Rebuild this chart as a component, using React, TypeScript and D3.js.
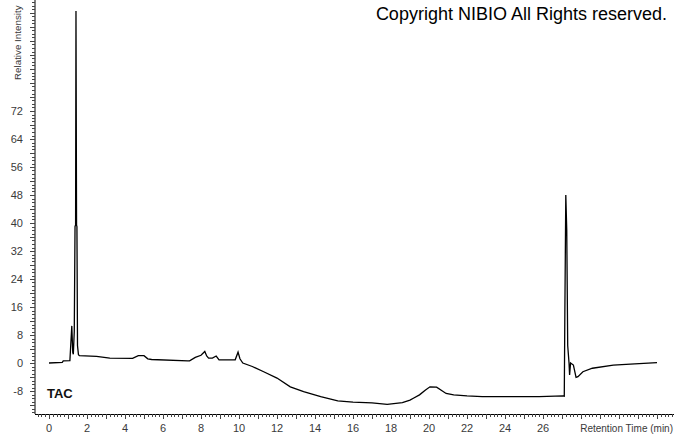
import React from "react";
import * as d3 from "d3";

const times = [
  0, 0.7, 0.75, 1.1, 1.2, 1.25, 1.28, 1.33, 1.37, 1.4, 1.42, 1.45, 1.47, 1.5, 1.55, 1.6,
  2.5, 3.2, 4.4, 4.7, 5.0, 5.2, 5.4, 7.3, 7.4, 7.7, 8.0, 8.2, 8.3, 8.4, 8.6, 8.8, 8.95,
  9.8, 9.95, 10.05, 10.2, 10.7, 11.3, 12.0, 12.7, 13.4, 14.3, 15.2, 16.0, 17.0, 17.8,
  18.6, 19.0, 19.2, 19.5, 19.8, 20.05, 20.4, 20.9, 21.3, 22.0, 22.8, 25.8, 27.05, 27.12,
  27.15, 27.2, 27.25, 27.3, 27.37, 27.4, 27.45, 27.6, 27.74, 27.84, 28.1, 28.6, 29.7, 30.6, 32.0,
];
const intensity = [
  0, 0.2, 0.6, 0.7, 10.6, 3, 2.5, 9, 39, 39.4, 100.6, 39.4, 39, 5, 2.4, 2.1,
  1.9, 1.4, 1.3, 2.1, 2.1, 1.2, 1.0, 0.6, 0.6, 1.6, 2.2, 3.3, 2.0, 1.4, 1.4, 2.0, 0.9,
  0.9, 3.1, 1.2, 0.0, -1.0, -2.5, -4.3, -6.8, -8.2, -9.6, -10.8, -11.2, -11.4, -11.8,
  -11.3, -10.6, -10.0, -9.1, -7.8, -6.8, -6.9, -8.7, -9.1, -9.4, -9.6, -9.6, -9.4, -9.5,
  14, 48, 38, 5, 0, -3.4, 0, -0.6, -4.1, -3.9, -2.5, -1.5, -0.6, -0.3, 0.1,
];
const yLabels = [-8, 0, 8, 16, 24, 32, 40, 48, 56, 64, 72];
const xLabels = [0, 2, 4, 6, 8, 10, 12, 14, 16, 18, 20, 22, 24, 26];

const W = 674;
const H = 434;

export default function App() {
  const left = 35;
  const right = 674;
  const bottom = 414;
  const top = 0;
  const x = d3.scaleLinear().domain([-14 / 19, (right - 49) / 19]).range([left, right]);
  const y = d3.scaleLinear().domain([(363 - bottom) / 3.5, 363 / 3.5]).range([bottom, top]);

  const pts = times.map((t, i) => [t, intensity[i]] as [number, number]);
  const line = d3
    .line<[number, number]>()
    .x((d) => x(d[0]))
    .y((d) => y(d[1]))
    .curve(d3.curveLinear);

  const yMinor = d3.range(-14, 104, 1);
  const xMinor = d3.range(-0.6, 32.95, 0.2).map((v) => Math.round(v * 10) / 10);

  const font = "Arial, 'Liberation Sans', sans-serif";
  const gray = "#3a3a3a";

  return (
    <svg width={W} height={H} style={{ position: "absolute", left: 0, top: 0, background: "#fff" }}>
      <rect x={0} y={0} width={W} height={H} fill="#fff" />
      {/* axes lines */}
      <line x1={left} x2={left} y1={top} y2={bottom} stroke="#000" strokeWidth={1} />
      <line x1={left} x2={right} y1={bottom + 0.5} y2={bottom + 0.5} stroke="#000" strokeWidth={1} />
      {/* y ticks */}
      {yMinor.map((v) => {
        const yy = Math.round(y(v)) + 0.5;
        const len = v % 4 === 0 ? 5 : 3;
        return <line key={"ym" + v} x1={left - len} x2={left} y1={yy} y2={yy} stroke="#444" strokeWidth={1} />;
      })}
      {yLabels.map((v) => (
        <text key={"yl" + v} x={left - 12} y={y(v) + 4} textAnchor="end" fontFamily={font} fontSize={11} fill={gray}>
          {v}
        </text>
      ))}
      {/* x ticks */}
      {xMinor.map((v) => {
        const xx = Math.round(x(v)) + 0.5;
        const len = Math.abs(v - Math.round(v)) < 1e-6 ? 5 : 3;
        return <line key={"xm" + v} x1={xx} x2={xx} y1={bottom} y2={bottom + len} stroke="#444" strokeWidth={1} />;
      })}
      {xLabels.map((v) => (
        <text key={"xl" + v} x={x(v)} y={432} textAnchor="middle" fontFamily={font} fontSize={11} fill={gray}>
          {v}
        </text>
      ))}
      <text x={673} y={432} textAnchor="end" fontFamily={font} fontSize={10} fill={gray}>
        Retention Time (min)
      </text>
      <text
        transform={`translate(21,80) rotate(-90)`}
        fontFamily={font}
        fontSize={9.8}
        fill={gray}
      >
        Relative Intensity
      </text>
      {/* trace */}
      <path d={line(pts) || ""} fill="none" stroke="#000" strokeWidth={1.3} strokeLinejoin="miter" />
      <text x={47} y={398} fontFamily={font} fontSize={13} fontWeight="bold" fill="#111">
        TAC
      </text>
      <text x={667} y={20} textAnchor="end" fontFamily={font} fontSize={18} fill="#000">
        Copyright NIBIO All Rights reserved.
      </text>
    </svg>
  );
}
